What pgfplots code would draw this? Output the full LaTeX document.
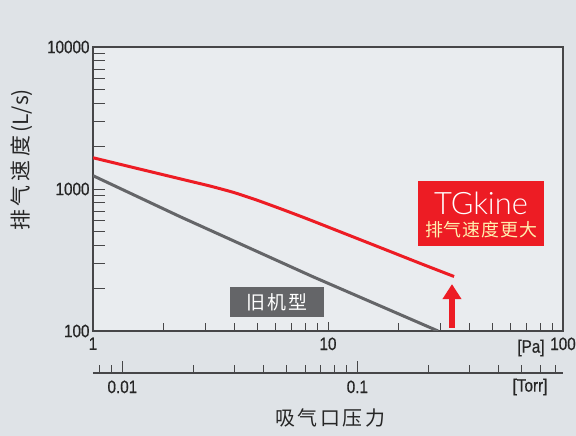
\documentclass[border=0pt]{standalone}
\usepackage{fontspec}
\usepackage{pgfplots}
\pgfplotsset{compat=1.18}
\usetikzlibrary{arrows.meta}
\setmainfont{Liberation Sans}
\newfontfamily\numfont[FakeStretch=0.85,FakeBold=0.6]{Liberation Sans}
\newfontfamily\thinfont{Lato Light}
\newfontfamily\cjk{Noto Sans CJK SC}
\definecolor{bgout}{RGB}{223,227,231}
\definecolor{bgin}{RGB}{233,236,239}
\definecolor{tgred}{RGB}{237,28,36}
\definecolor{oldgray}{RGB}{100,101,104}
\definecolor{axgray}{RGB}{70,70,72}
\definecolor{pale}{RGB}{255,241,176}
\begin{document}
\begin{tikzpicture}
\fill[bgout] (0bp,0bp) rectangle (576bp,436bp);
\path[use as bounding box] (0bp,0bp) rectangle (576bp,436bp);

% main axis: frame, y ticks, curves
\begin{axis}[
  at={(93bp,105bp)}, anchor=south west,
  scale only axis, width=470bp, height=284bp,
  xmode=log, ymode=log, xmin=1, xmax=100, ymin=100, ymax=10000,
  axis background/.style={fill=bgin},
  axis line style={draw=axgray, line width=1.2bp},
  tick pos=left, tick align=inside,
  xtick=\empty, minor xtick={},
  ytick={100,1000,10000}, yticklabels={100,1000,10000},
  minor ytick={200,300,400,500,600,700,800,900,2000,3000,4000,5000,6000,7000,8000,9000},
  yticklabel style={font=\numfont\fontsize{18}{18}\selectfont, text=black!85},
  major tick length=12bp, minor tick length=12bp,
  every tick/.style={draw=axgray, line width=0.9bp},
]
\addplot[draw=oldgray, line width=3bp, line join=round] coordinates {
  (1,1241) (2.35,638) (8.63,241) (29.4,100)
};
\addplot[draw=tgred, line width=3bp, line join=round, smooth, tension=0.4] coordinates {
  (1,1660) (1.585,1380) (2.512,1148) (3.162,1047) (3.981,944) (5.012,832) (6.31,724) (7.943,627) (10,540) (15.85,400) (25.12,296) (34.4,242)
};
\draw[tgred, line width=6bp, -{Triangle[width=18bp,length=15bp]}] (axis cs:33.7,105) -- (axis cs:33.7,214);
\fill[tgred] (axis cs:24.15,397) rectangle (axis cs:83,1137);
\node[text=white, font=\thinfont\fontsize{31}{31}\selectfont, inner sep=0] at (axis cs:44.8,790) {TGkine};
\node[text=pale, font=\cjk\fontsize{18}{18}\selectfont\addfontfeature{LetterSpace=5}, inner sep=0] at (axis cs:44.8,514) {排气速度更大};
\fill[oldgray] (axis cs:3.83,125.5) rectangle (axis cs:9.61,204);
\node[text=white, font=\cjk\fontsize{19}{19}\selectfont\addfontfeature{LetterSpace=10}, inner sep=0] at (axis cs:6.07,160) {旧机型};
\end{axis}

% x ticks (Pa)
\begin{axis}[
  at={(93bp,105bp)}, anchor=south west,
  scale only axis, width=470bp, height=284bp,
  xmode=log, xmin=1, xmax=100, ymin=0, ymax=1,
  axis x line*=bottom, axis y line=none,
  axis line style={draw=none},
  tick align=inside,
  xtick={1,10,100}, xticklabels={1,10,100},
  minor xtick={2,3,4,5,6,7,8,9,20,30,40,50,60,70,80,90},
  xticklabel style={font=\numfont\fontsize{18}{18}\selectfont, text=black!85, yshift=-3bp},
  major tick length=9bp, minor tick length=8bp,
  every tick/.style={draw=axgray, line width=0.9bp},
]
\end{axis}

% Torr axis
\begin{axis}[
  at={(93bp,63bp)}, anchor=south west,
  scale only axis, width=470bp, height=10bp,
  xmode=log, xmin=0.0075006, xmax=0.75006, ymin=0, ymax=1,
  axis x line*=bottom, axis y line=none,
  axis line style={draw=axgray, line width=1.2bp},
  tick align=inside,
  xtick={0.01,0.1}, xticklabels={0.01,0.1},
  minor xtick={0.008,0.009,0.02,0.03,0.04,0.05,0.06,0.07,0.08,0.09,0.2,0.3,0.4,0.5,0.6,0.7},
  xticklabel style={font=\numfont\fontsize{18}{18}\selectfont, text=black!85, yshift=-4bp},
  major tick length=12bp, minor tick length=8bp,
  every tick/.style={draw=axgray, line width=0.9bp},
]
\end{axis}

\node[font=\numfont\fontsize{18}{18}\selectfont, text=black!85] at (531bp,88bp) {[Pa]};
\node[font=\numfont\fontsize{18}{18}\selectfont, text=black!85] at (530bp,49bp) {[Torr]};
\node[font=\cjk\fontsize{20}{20}\selectfont\addfontfeature{LetterSpace=13}, text=black!85] at (330bp,18bp) {吸气口压力};
\node[rotate=90, font=\cjk\fontsize{21}{21}\selectfont, text=black!85] at (22bp,276bp) {{\addfontfeature{LetterSpace=18}排气速度}\,(L/s)};
\end{tikzpicture}
\end{document}
